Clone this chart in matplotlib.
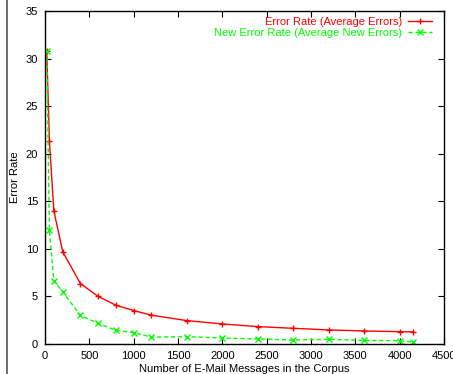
import matplotlib
matplotlib.use("Agg")
import matplotlib.pyplot as plt
from matplotlib.lines import Line2D

plt.rcParams['font.family'] = ['Liberation Sans', 'DejaVu Sans']

# corpus size (number of e-mails)
msgs = [20, 50, 100, 200, 400, 600, 800, 1000, 1200, 1600, 2000, 2400, 2800, 3200, 3600, 4000, 4150]
err_rate = [30.8, 21.3, 14.0, 9.7, 6.35, 5.0, 4.08, 3.52, 3.03, 2.46, 2.11, 1.83, 1.65, 1.48, 1.37, 1.3, 1.27]
new_err_rate = [30.8, 12.0, 6.6, 5.5, 3.0, 2.18, 1.44, 1.2, 0.72, 0.77, 0.63, 0.53, 0.42, 0.49, 0.38, 0.35, 0.2]

xticks = [0, 500, 1000, 1500, 2000, 2500, 3000, 3500, 4000, 4500]
yticks = [0, 5, 10, 15, 20, 25, 30, 35]

fig = plt.figure(figsize=(4.53, 3.74), dpi=100)
ax = fig.add_axes([0.0993, 0.0802, 0.8807, 0.8904])

ax.plot(msgs, err_rate, color='#ff0000', lw=1.0, marker='+', ms=5, mew=1.0,
        label='Error Rate (Average Errors)')
ax.plot(msgs, new_err_rate, color='#00ff00', lw=1.0, ls=(0, (3, 2)), marker='x', ms=4, mew=1.0,
        label='New Error Rate (Average New Errors)')

ax.set_xlim(0, 4500)
ax.set_ylim(0, 35)
ax.set_xticks(xticks)
ax.set_yticks(yticks)
ax.tick_params(direction='in', top=True, right=True, labelsize=8, length=4, width=0.8, pad=5)
for s in ax.spines.values():
    s.set_linewidth(1.0)

ax.set_xlabel('Number of E-Mail Messages in the Corpus', fontsize=8, labelpad=2)
ax.set_ylabel('Error Rate', fontsize=8, labelpad=4)

leg = ax.legend(loc='upper right', markerfirst=False, frameon=False, fontsize=8,
                handlelength=2.2, handletextpad=0.5, labelspacing=0.05,
                borderaxespad=0.3, labelcolor='linecolor', bbox_to_anchor=(0.99, 1.005))

# page border line on the left
fig.add_artist(Line2D([0.016, 0.016], [0, 1], color='#555555', lw=1.2, transform=fig.transFigure))

fig.savefig('out.png', dpi=100)
